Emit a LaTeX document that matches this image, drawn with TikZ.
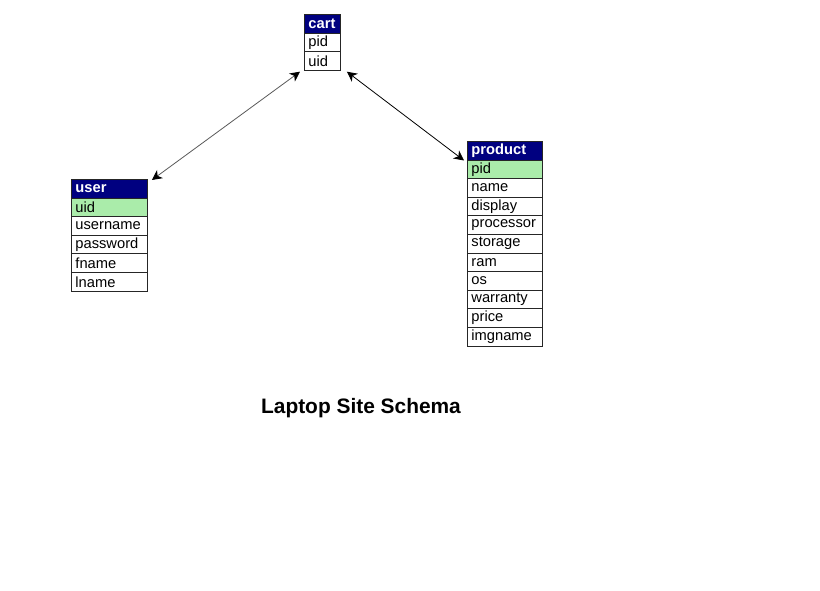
\documentclass[tikz,border=0pt]{standalone}
\usepackage{fontspec}
\setmainfont{Liberation Sans}
\usetikzlibrary{arrows.meta}
\definecolor{hdr}{RGB}{0,0,128}
\definecolor{keyg}{RGB}{170,236,170}
\tikzset{
  cell/.style={draw=black!85, line width=0.9pt, rectangle, anchor=north west, inner xsep=4pt, inner ysep=0pt,
    minimum height=18.6pt, align=left, font=\fontsize{14.7}{16}\selectfont, fill=white},
  head/.style={cell, fill=hdr, text=white, font=\fontsize{14.7}{16}\selectfont\bfseries},
  keycell/.style={cell, fill=keyg},
  rel/.style={{Stealth[length=10pt,width=10pt,inset=3pt,color=black]}-{Stealth[length=10pt,width=10pt,inset=3pt,color=black]}, line width=0.8pt},
}
\begin{document}
\begin{tikzpicture}[x=1pt,y=-1pt]
\useasboundingbox (0,0) rectangle (820,591);
% cart
\node[head, text width=28pt] (cartH) at (304,14) {cart};
\node[cell, text width=28pt] (cart1) at (304,32.6) {pid};
\node[cell, text width=28pt] (cart2) at (304,51.2) {uid};
% user
\node[head, text width=68pt] (userH) at (71,179) {user};
\node[keycell, text width=68pt] (user1) at (71,197.6) {uid};
\node[cell, text width=68pt] (user2) at (71,216.2) {username};
\node[cell, text width=68pt] (user3) at (71,234.8) {password};
\node[cell, text width=68pt] (user4) at (71,253.4) {fname};
\node[cell, text width=68pt] (user5) at (71,272) {lname};
% product
\node[head, text width=67pt] (prodH) at (467,141) {product};
\node[keycell, text width=67pt] (prod1) at (467,159.6) {pid};
\node[cell, text width=67pt] (prod2) at (467,178.2) {name};
\node[cell, text width=67pt] (prod3) at (467,196.8) {display};
\node[cell, text width=67pt] (prod4) at (467,215.4) {processor};
\node[cell, text width=67pt] (prod5) at (467,234) {storage};
\node[cell, text width=67pt] (prod6) at (467,252.6) {ram};
\node[cell, text width=67pt] (prod7) at (467,271.2) {os};
\node[cell, text width=67pt] (prod8) at (467,289.8) {warranty};
\node[cell, text width=67pt] (prod9) at (467,308.4) {price};
\node[cell, text width=67pt] (prod10) at (467,327) {imgname};
% relations
\coordinate (a1) at ([shift={(-4,1)}]cart2.south west);
\coordinate (a2) at ([shift={(4,1)}]userH.north east);
\draw[rel, draw=black!65] (a1) -- (a2);
\coordinate (b1) at ([shift={(6,1)}]cart2.south east);
\coordinate (b2) at ([shift={(-3,0)}]prodH.south west);
\draw[rel] (b1) -- (b2);
% title
\node[font=\fontsize{20.9}{24}\selectfont\bfseries] (title) at (361,408) {Laptop Site Schema};
\end{tikzpicture}
\end{document}
